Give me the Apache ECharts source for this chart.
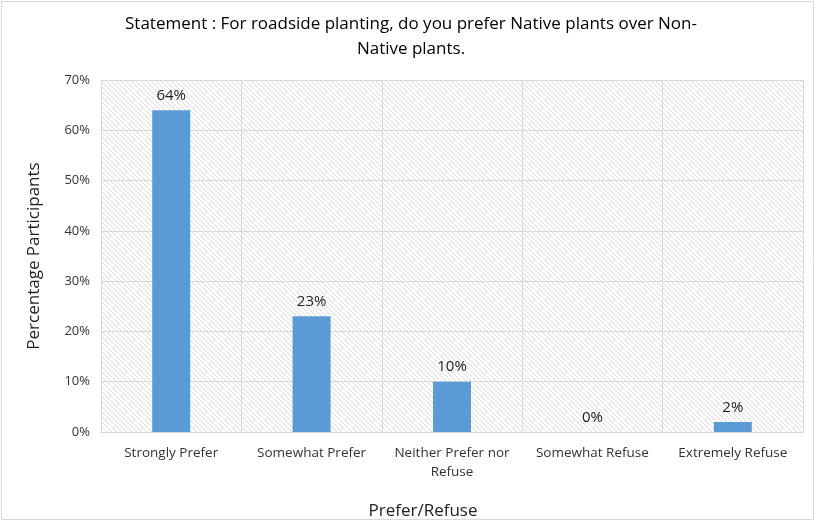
<!DOCTYPE html>
<html>
<head>
<meta charset="utf-8">
<script src="https://cdn.jsdelivr.net/npm/echarts@6/dist/echarts.min.js"></script>
<style>
  html, body { margin: 0; padding: 0; background: #fff; }
  #chart { width: 822px; height: 529px; }
</style>
</head>
<body>
<div id="chart"></div>
<script>
const categories = ['Strongly Prefer', 'Somewhat Prefer', 'Neither Prefer nor\nRefuse', 'Somewhat Refuse', 'Extremely Refuse']
const percentValues = [64, 23, 10, 0, 2]

// diagonal hatch for the plot background
function makeHatch () {
  const c = document.createElement('canvas')
  c.width = 5
  c.height = 5
  const ctx = c.getContext('2d')
  ctx.fillStyle = '#ffffff'
  ctx.fillRect(0, 0, 5, 5)
  ctx.strokeStyle = '#dadada'
  ctx.lineWidth = 1
  ctx.beginPath()
  for (let k = -5; k <= 10; k += 5) {
    ctx.moveTo(k, 0)
    ctx.lineTo(k + 5, 5)
  }
  ctx.stroke()
  return c
}

const myChart = echarts.init(document.getElementById('chart'))
const font = 'Open Sans, Liberation Sans, sans-serif'
const option = {
  backgroundColor: '#ffffff',
  textStyle: { fontFamily: font },
  title: [{
    text: 'Statement : For roadside planting, do you prefer Native plants over Non-\nNative plants.',
    left: 'center',
    top: 7,
    textStyle: { fontSize: 17, fontWeight: 'normal', color: '#000', lineHeight: 25, fontFamily: font }
  }, {
    text: 'Prefer/Refuse',
    left: 418,
    textAlign: 'center',
    top: 498,
    textStyle: { fontSize: 17, fontWeight: 'normal', color: '#222', fontFamily: font }
  }],
  graphic: [{
    type: 'rect',
    shape: { x: 1.5, y: 1.5, width: 812, height: 518 },
    style: { fill: 'none', stroke: '#d9d9d9', lineWidth: 1 },
    silent: true
  }],
  grid: {
    left: 101,
    right: 19,
    top: 80,
    bottom: 97,
    show: true,
    borderWidth: 0,
    backgroundColor: { image: makeHatch(), repeat: 'repeat' }
  },
  xAxis: {
    type: 'category',
    data: categories,
    axisLine: { lineStyle: { color: '#d9d9d9' } },
    axisTick: { show: false },
    axisLabel: { color: '#333', fontSize: 13.5, margin: 12, lineHeight: 19, interval: 0 },
    splitLine: { show: true, interval: 0, lineStyle: { color: '#d9d9d9' } }
  },
  yAxis: {
    type: 'value',
    min: 0,
    max: 70,
    interval: 10,
    name: 'Percentage Participants',
    nameLocation: 'middle',
    nameGap: 58,
    nameTextStyle: { fontSize: 17, color: '#222' },
    axisLine: { show: true, lineStyle: { color: '#d9d9d9' } },
    axisTick: { show: false },
    axisLabel: { formatter: '{value}%', color: '#333', fontSize: 13, margin: 11 },
    splitLine: { lineStyle: { color: '#d9d9d9' } }
  },
  series: [{
    type: 'bar',
    data: percentValues,
    barWidth: 38,
    itemStyle: { color: '#5b9bd5' },
    label: {
      show: true,
      position: 'top',
      distance: 7,
      formatter: '{c}%',
      color: '#222',
      fontSize: 15
    }
  }]
}
myChart.setOption(option, true)
</script>
</body>
</html>
